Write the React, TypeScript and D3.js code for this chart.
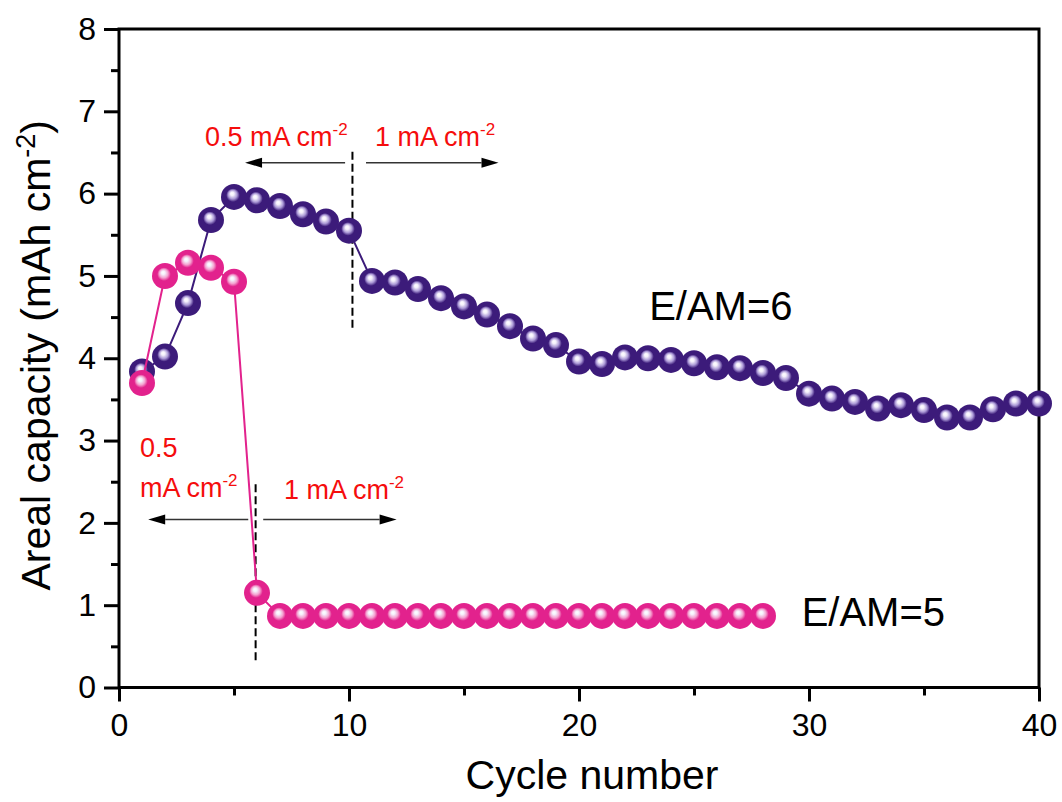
import React, { useEffect, useRef } from "react";
import * as d3 from "d3";

// E/AM = 6 (purple) and E/AM = 5 (pink), areal capacity per cycle
const cyclesHigh = [
   1, 2, 3, 4, 5, 6, 7, 8, 9, 10, 11, 12, 13, 14, 15, 16, 17, 18, 19, 20,
   21, 22, 23, 24, 25, 26, 27, 28, 29, 30, 31, 32, 33, 34, 35, 36, 37, 38, 39, 40,
];
const capacityHigh = [
   3.84, 4.02, 4.67, 5.68, 5.96, 5.92, 5.85, 5.75, 5.66, 5.55,
   4.94, 4.92, 4.84, 4.73, 4.63, 4.53, 4.39, 4.24, 4.16, 3.96,
   3.93, 4.01, 4.0, 3.98, 3.94, 3.89, 3.88, 3.82, 3.76, 3.57,
   3.51, 3.47, 3.39, 3.43, 3.37, 3.28, 3.28, 3.38, 3.45, 3.45,
];
const cyclesLow = [
   1, 2, 3, 4, 5, 6, 7, 8, 9, 10, 11, 12, 13, 14, 15, 16, 17, 18, 19, 20,
   21, 22, 23, 24, 25, 26, 27, 28,
];
const capacityLow = [
   3.7, 5.0, 5.16, 5.1, 4.93, 1.15, 0.87, 0.87, 0.87, 0.87,
   0.87, 0.87, 0.87, 0.87, 0.87, 0.87, 0.87, 0.87, 0.87, 0.87,
   0.87, 0.87, 0.87, 0.87, 0.87, 0.87, 0.87, 0.87,
];

const xMajor = [0, 10, 20, 30, 40];
const xMinor = [5, 15, 25, 35];
const yMajor = [0, 1, 2, 3, 4, 5, 6, 7, 8];
const yMinor = [0.5, 1.5, 2.5, 3.5, 4.5, 5.5, 6.5, 7.5];

// current-density switch markers (data units)
const switchLines = [
   { x: 10.15, y0: 4.37, y1: 6.51 },
   { x: 5.94, y0: 0.33, y1: 2.48 },
];
const arrows = [
   { from: 9.83, to: 5.48, y: 6.376 },
   { from: 10.74, to: 16.5, y: 6.376 },
   { from: 5.62, to: 1.27, y: 2.04 },
   { from: 6.27, to: 12.07, y: 2.04 },
];
const rateLabels = [
   { x: 3.74, y: 6.58, text: "0.5 mA cm", sup: "-2" },
   { x: 11.13, y: 6.58, text: "1 mA cm", sup: "-2" },
   { x: 0.91, y: 2.8, text: "0.5", sup: "" },
   { x: 0.91, y: 2.32, text: "mA cm", sup: "-2" },
   { x: 7.17, y: 2.29, text: "1 mA cm", sup: "-2" },
];
const seriesLabels = [
   { x: 23.05, y: 4.465, text: "E/AM=6" },
   { x: 29.68, y: 0.747, text: "E/AM=5" },
];

const FONT = "'Liberation Sans', Arial, Helvetica, sans-serif";

const Chart = () => {
   const ref = useRef<SVGSVGElement>(null);

   useEffect(() => {
      const width = 1062;
      const height = 802;
      const margin = { top: 29, right: 23, bottom: 114.5, left: 119 };

      const svg = d3.select(ref.current).attr("width", width).attr("height", height);
      svg.selectAll("*").remove();

      const xScale = d3
         .scaleLinear()
         .domain([0, 40])
         .range([margin.left, width - margin.right]);
      const yScale = d3
         .scaleLinear()
         .domain([0, 8])
         .range([height - margin.bottom, margin.top]);

      svg.append("rect").attr("width", width).attr("height", height).attr("fill", "#fff");

      // gradients for the glossy spheres
      const defs = svg.append("defs");
      const sphere = (id, base, halo) => {
         const g = defs
            .append("radialGradient")
            .attr("id", id)
            .attr("cx", "0.5")
            .attr("cy", "0.5")
            .attr("r", "0.5")
            .attr("fx", "0.42")
            .attr("fy", "0.36");
         g.append("stop").attr("offset", "0").attr("stop-color", "#ffffff");
         g.append("stop").attr("offset", "0.14").attr("stop-color", "#f4f0fb");
         g.append("stop").attr("offset", "0.34").attr("stop-color", halo);
         g.append("stop").attr("offset", "0.52").attr("stop-color", base);
         g.append("stop").attr("offset", "1").attr("stop-color", base);
      };
      sphere("ballPurple", "#3c1b7a", "#ab99d6");
      sphere("ballPink", "#e2228d", "#f4a0cf");

      // axes: minor then major ticks
      const yAxisG = svg.append("g").attr("transform", `translate(${margin.left},0)`);
      yAxisG.append("g").call(d3.axisLeft(yScale).tickValues(yMinor).tickSize(8).tickFormat(() => ""));
      yAxisG
         .append("g")
         .call(d3.axisLeft(yScale).tickValues(yMajor).tickSize(15).tickPadding(8).tickFormat(d3.format("d")));

      const xAxisG = svg.append("g").attr("transform", `translate(0,${height - margin.bottom})`);
      xAxisG.append("g").call(d3.axisBottom(xScale).tickValues(xMinor).tickSize(8).tickFormat(() => ""));
      xAxisG
         .append("g")
         .call(d3.axisBottom(xScale).tickValues(xMajor).tickSize(14).tickPadding(12).tickFormat(d3.format("d")));

      svg.selectAll(".domain").remove();
      svg.selectAll(".tick line").attr("stroke", "#000").attr("stroke-width", 3);
      svg.selectAll(".tick text")
         .attr("fill", "#000")
         .style("font-family", FONT)
         .style("font-size", "32px");

      // frame
      svg.append("rect")
         .attr("x", xScale(0))
         .attr("y", yScale(8))
         .attr("width", xScale(40) - xScale(0))
         .attr("height", yScale(0) - yScale(8))
         .attr("fill", "none")
         .attr("stroke", "#000")
         .attr("stroke-width", 3);

      // axis titles
      svg.append("text")
         .attr("x", 592)
         .attr("y", 789)
         .attr("text-anchor", "middle")
         .style("font-family", FONT)
         .style("font-size", "41px")
         .text("Cycle number");

      const yTitle = svg
         .append("text")
         .attr("transform", `translate(50,${(yScale(0) + yScale(8)) / 2 - 3}) rotate(-90)`)
         .attr("text-anchor", "middle")
         .style("font-family", FONT)
         .style("font-size", "41px");
      yTitle.append("tspan").text("Areal capacity (mAh cm");
      yTitle.append("tspan").attr("dy", -15).style("font-size", "27px").text("-2");
      yTitle.append("tspan").attr("dy", 15).text(")");

      // dashed switch lines
      svg.append("g")
         .selectAll("line")
         .data(switchLines)
         .join("line")
         .attr("x1", (d) => xScale(d.x))
         .attr("x2", (d) => xScale(d.x))
         .attr("y1", (d) => yScale(d.y0))
         .attr("y2", (d) => yScale(d.y1))
         .attr("stroke", "#000")
         .attr("stroke-width", 2)
         .attr("stroke-dasharray", "8,4");

      // arrows
      const arrowG = svg.append("g");
      arrows.forEach((a) => {
         const x1 = xScale(a.from);
         const x2 = xScale(a.to);
         const y = yScale(a.y);
         const dir = Math.sign(x2 - x1);
         const headLen = 17;
         arrowG.append("line")
            .attr("x1", x1)
            .attr("x2", x2 - dir * headLen)
            .attr("y1", y)
            .attr("y2", y)
            .attr("stroke", "#333")
            .attr("stroke-width", 1.5);
         arrowG.append("path")
            .attr("d", `M${x2},${y} L${x2 - dir * headLen},${y - 5} L${x2 - dir * headLen},${y + 5} Z`)
            .attr("fill", "#000");
      });

      // red rate labels
      rateLabels.forEach((l) => {
         const t = svg
            .append("text")
            .attr("x", xScale(l.x))
            .attr("y", yScale(l.y))
            .attr("fill", "#f50d0d")
            .style("font-family", FONT)
            .style("font-size", "27px");
         t.append("tspan").text(l.text);
         if (l.sup) t.append("tspan").attr("dy", -11).style("font-size", "17px").text(l.sup);
      });

      // series labels
      svg.append("g")
         .selectAll("text")
         .data(seriesLabels)
         .join("text")
         .attr("x", (d) => xScale(d.x))
         .attr("y", (d) => yScale(d.y))
         .style("font-family", FONT)
         .style("font-size", "40px")
         .text((d) => d.text);

      // series: line then spheres
      const drawSeries = (xs, ys, stroke, fillId) => {
         const pts = xs.map((x, i) => [x, ys[i]]);
         const line = d3
            .line()
            .x((d) => xScale(d[0]))
            .y((d) => yScale(d[1]));
         svg.append("path")
            .datum(pts)
            .attr("d", line)
            .attr("fill", "none")
            .attr("stroke", stroke)
            .attr("stroke-width", 2);
         svg.append("g")
            .selectAll("circle")
            .data(pts)
            .join("circle")
            .attr("cx", (d) => xScale(d[0]))
            .attr("cy", (d) => yScale(d[1]))
            .attr("r", 13)
            .attr("fill", `url(#${fillId})`);
      };
      drawSeries(cyclesHigh, capacityHigh, "#3c1b7a", "ballPurple");
      drawSeries(cyclesLow, capacityLow, "#e2228d", "ballPink");
   }, []);

   return <svg ref={ref} style={{ position: "absolute", left: 0, top: 0 }} />;
};

export default function App() {
   return <Chart />;
}
